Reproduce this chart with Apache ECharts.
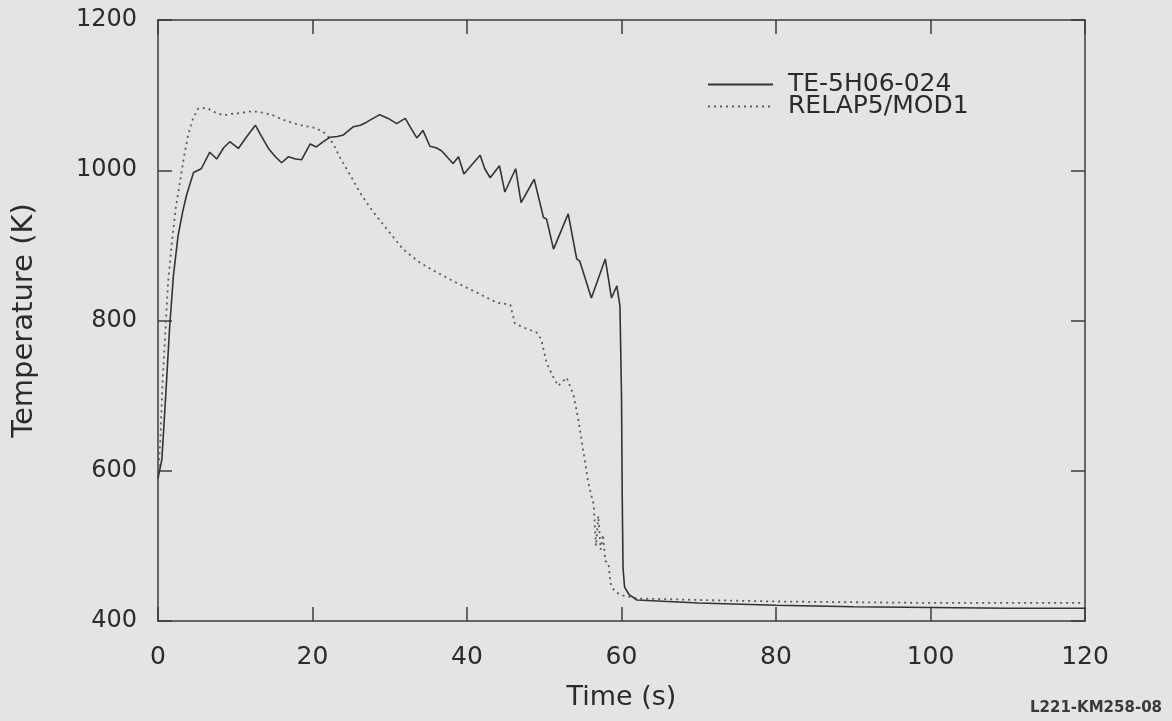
<!DOCTYPE html>
<html>
<head>
<meta charset="utf-8">
<title>Temperature vs Time</title>
<script src="https://cdn.jsdelivr.net/npm/echarts@6/dist/echarts.min.js"></script>
<style>
  html, body { margin: 0; padding: 0; background: #e4e4e4; }
  #chart { width: 1172px; height: 721px; }
</style>
</head>
<body>
<div id="chart"></div>
<script>
// Measured cladding temperature, thermocouple TE-5H06-024
const measTime = [0, 0.5, 1.0, 1.5, 2.0, 2.6, 3.2, 3.7, 4.6, 5.6, 6.7, 7.6, 8.5, 9.3, 10.4, 11.5, 12.6, 13.4,
  14.3, 15.2, 16.0, 16.9, 17.8, 18.6, 19.7, 20.5, 21.4, 22.3, 23.2, 24.0, 25.3, 26.2, 27.0, 28.7, 29.8,
  30.9, 32.0, 32.8, 33.5, 34.3, 35.2, 36.0, 36.7, 37.4, 38.2, 38.9, 39.6, 40.6, 41.7, 42.3, 43.0, 44.2,
  44.9, 46.3, 47.0, 48.7, 49.9, 50.3, 51.2, 53.1, 54.2, 54.6, 56.1, 57.9, 58.7, 59.4, 59.8, 60.0, 60.1,
  60.2, 60.4, 61.0, 62.0, 64, 70, 80, 90, 100, 110, 120];
const measTemp = [590, 615, 700, 790, 860, 913, 945, 967, 997, 1002, 1024, 1015, 1030, 1038, 1029, 1045, 1060, 1045,
  1029, 1018, 1010, 1018, 1015, 1014, 1035, 1031, 1038, 1044, 1045, 1047, 1058, 1060, 1064, 1074, 1069,
  1062, 1069, 1055, 1043, 1053, 1032, 1030, 1026, 1018, 1009, 1018, 995, 1007, 1020, 1002, 990, 1006,
  971, 1002, 957, 988, 937, 935, 895, 942, 882, 879, 830, 882, 830, 846, 819, 700, 560,
  470, 445, 435, 428, 427, 424, 421, 419, 418, 417, 417];

// RELAP5/MOD1 calculation
const calcTime = [0, 0.3, 0.6, 0.9, 1.3, 1.8, 2.3, 2.85, 3.4, 3.9, 4.5, 5.2, 6.3, 7.4, 8.5, 9.5, 10.6, 11.7,
  12.8, 13.9, 14.9, 16.0, 17.1, 18.5, 20.5, 21.8, 22.7, 23.5, 24.4, 25.3, 26.1, 27.0, 27.9, 29.6, 31.7,
  33.9, 36.1, 38.7, 41.3, 43.8, 45.6, 46.2, 47.5, 49.0, 49.6, 50.3, 51.0, 51.8, 52.9, 53.8, 54.4, 55.0,
  55.7, 56.4, 56.7, 57.0, 57.3, 57.6, 57.9, 58.3, 58.6, 58.9, 59.3, 60.2, 62, 70, 80, 90, 100, 110, 120];
const calcTemp = [590, 640, 720, 775, 850, 904, 950, 985, 1020, 1047, 1068, 1082, 1083, 1077, 1073, 1075, 1076, 1078,
  1078, 1076, 1073, 1068, 1064, 1060, 1056, 1048, 1035, 1018, 1002, 986, 971, 957, 944, 922, 895,
  877, 864, 850, 837, 824, 821, 796, 790, 784, 775, 744, 728, 713, 724, 700, 669, 630,
  584, 555, 500, 540, 495, 515, 480, 477, 450, 443, 438, 434, 430, 428, 426, 425, 424, 424, 424];

const xTicks = { min: 0, max: 120, interval: 20 };
const yTicks = { min: 400, max: 1200, interval: 200 };
const seriesNames = ['TE-5H06-024', 'RELAP5/MOD1'];

const pairs = (xs, ys) => xs.map((x, i) => [x, ys[i]]);
const plain = v => String(v);

const ink = '#2b2b2b';
const frame = { show: true, onZero: false, lineStyle: { color: '#3c3c3c', width: 1.5 } };
const inTick = { show: true, inside: true, length: 14, lineStyle: { color: '#3c3c3c', width: 1.5 } };
const font = 'DejaVu Sans';

const chart = echarts.init(document.getElementById('chart'), null, { renderer: 'canvas' });
chart.setOption({
  backgroundColor: '#e4e4e4',
  animation: false,
  grid: { left: 158, top: 20, right: 87, bottom: 100, containLabel: false },
  legend: {
    orient: 'vertical',
    left: 707,
    top: 72,
    padding: 0,
    itemWidth: 65,
    itemHeight: 12,
    itemGap: -3,
    data: seriesNames,
    itemStyle: { opacity: 0 },
    textStyle: { fontFamily: font, fontSize: 25, color: ink, lineHeight: 22, padding: [0, 0, 0, 10] }
  },
  xAxis: [
    {
      type: 'value', position: 'bottom', ...xTicks,
      name: 'Time (s)', nameLocation: 'middle', nameGap: 63,
      nameTextStyle: { fontFamily: font, fontSize: 27, color: ink },
      axisLine: frame, axisTick: inTick,
      axisLabel: { fontFamily: font, fontSize: 25, color: ink, margin: 24, formatter: plain },
      splitLine: { show: false }
    },
    {
      type: 'value', position: 'top', ...xTicks,
      axisLine: frame, axisTick: inTick,
      axisLabel: { show: false }, splitLine: { show: false }
    }
  ],
  yAxis: [
    {
      type: 'value', position: 'left', ...yTicks,
      name: 'Temperature (K)', nameLocation: 'middle', nameGap: 119, nameRotate: 90,
      nameTextStyle: { fontFamily: font, fontSize: 29, color: ink },
      axisLine: frame, axisTick: inTick,
      axisLabel: { fontFamily: font, fontSize: 24, color: ink, margin: 21, formatter: plain },
      splitLine: { show: false }
    },
    {
      type: 'value', position: 'right', ...yTicks,
      axisLine: frame, axisTick: inTick,
      axisLabel: { show: false }, splitLine: { show: false }
    }
  ],
  series: [
    {
      name: seriesNames[0], type: 'line', symbol: 'none',
      data: pairs(measTime, measTemp),
      lineStyle: { color: '#333333', width: 1.6 },
      itemStyle: { color: '#333333' },
      z: 3
    },
    {
      name: seriesNames[1], type: 'line', symbol: 'none',
      data: pairs(calcTime, calcTemp),
      lineStyle: { color: '#5a5a5a', width: 1.8, type: [2, 4] },
      itemStyle: { color: '#5a5a5a' },
      z: 2
    }
  ],
  graphic: [
    {
      type: 'text', right: 10, top: 701,
      style: { text: 'L221-KM258-08', fontFamily: font, fontWeight: 'bold', fontSize: 15, fill: '#3a3a3a' }
    }
  ]
});
</script>
</body>
</html>
